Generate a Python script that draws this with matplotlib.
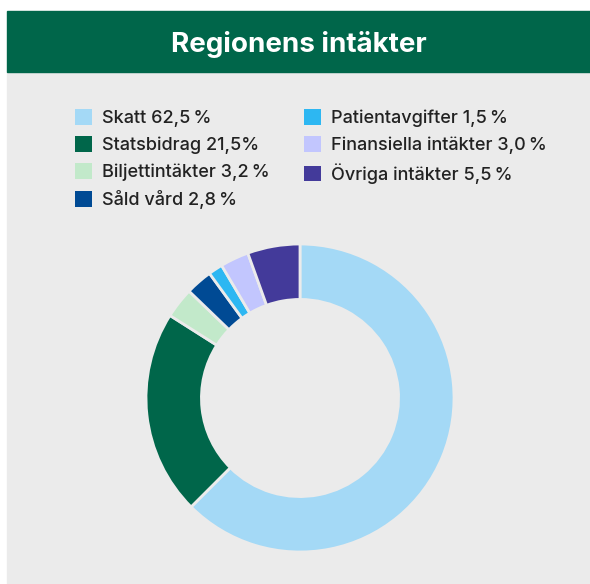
import matplotlib
matplotlib.use("Agg")
import matplotlib.pyplot as plt
import matplotlib.patches as mpatches

title = "Regionens intäkter"
categories = ["Skatt", "Statsbidrag", "Biljettintäkter", "Såld vård",
              "Patientavgifter", "Finansiella intäkter", "Övriga intäkter"]
values = [62.5, 21.5, 3.2, 2.8, 1.5, 3.0, 5.5]
value_labels = ["62,5\u2009%", "21,5%", "3,2\u2009%", "2,8\u2009%",
                "1,5\u2009%", "3,0\u2009%", "5,5\u2009%"]
colors = ["#A4D9F6", "#00664A", "#C2E9CA", "#004A94",
          "#2DB7F2", "#C2C6FE", "#433A9A"]

BG = "#EBEBEB"
GREEN = "#00664A"
W, H = 590, 584

plt.rcParams["font.family"] = ["Inter", "DejaVu Sans"]

fig = plt.figure(figsize=(W / 100, H / 100), dpi=100, facecolor="white")

# background panels
fig.patches.append(mpatches.Rectangle((7 / W, 0), 1 - 7 / W, (H - 72) / H,
                                      transform=fig.transFigure, color=BG, zorder=-2))
fig.patches.append(mpatches.Rectangle((7 / W, (H - 72) / H), 1 - 7 / W, 61 / H,
                                      transform=fig.transFigure, color=GREEN, zorder=-2))
fig.text((7 + W) / 2 / W, 1 - 44 / H, title, color="white", fontsize=20,
         fontweight="bold", ha="center", va="center")

# donut
cx, cy, r = 300, 398, 154
ax = fig.add_axes([(cx - r) / W, (H - cy - r) / H, 2 * r / W, 2 * r / H])
ax.set_zorder(1)
ax.set_facecolor("none")
ax.pie(values, colors=colors, startangle=90, counterclock=False, radius=1,
       wedgeprops=dict(width=0.36, edgecolor=BG, linewidth=2))
ax.set_xlim(-1, 1)
ax.set_ylim(-1, 1)
ax.set_aspect("equal")
ax.axis("off")

# legend
handles = [mpatches.Patch(facecolor=c, edgecolor="none") for c in colors]
labels = [f"{c} {v}" for c, v in zip(categories, value_labels)]
fs = 13
leg = fig.legend(handles, labels, ncol=2, loc="upper left",
                 bbox_to_anchor=(75 / W, 1 - 109 / H), frameon=False,
                 fontsize=fs, handlelength=0.95, handleheight=0.95,
                 handletextpad=0.55, labelspacing=0.5, columnspacing=1.9,
                 borderpad=0, borderaxespad=0)
for t in leg.get_texts():
    t.set_color("#222222")
    t.set_fontweight("medium")

fig.savefig("out.png", dpi=100, facecolor="white")
